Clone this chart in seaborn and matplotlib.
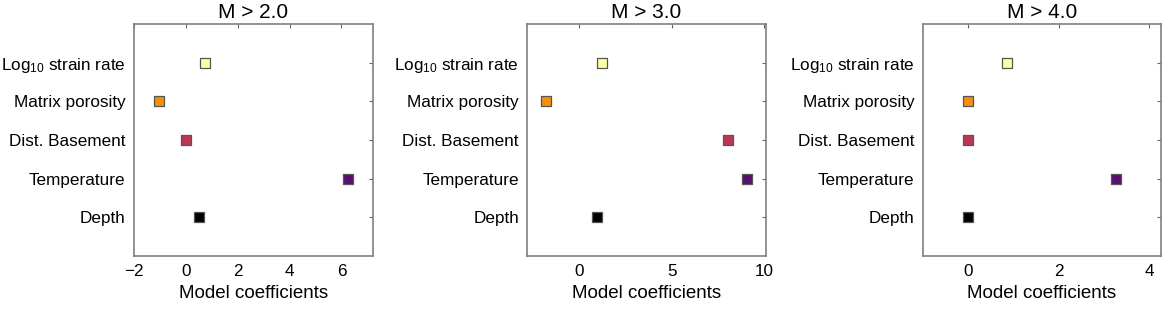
import matplotlib
matplotlib.use('Agg')
import matplotlib.pyplot as plt
import pandas as pd
import seaborn as sns

FEATURES = ['Log$_{10}$ strain rate', 'Matrix porosity', 'Dist. Basement', 'Temperature', 'Depth']
COLORS = ['#fcffa4', '#f98e09', '#bc3754', '#57106e', '#000004']

TITLES = ['M > 2.0', 'M > 3.0', 'M > 4.0']
COEF_M2 = [0.72, -1.03, 0.0, 6.25, 0.49]
COEF_M3 = [1.25, -1.79, 8.03, 9.10, 0.97]
COEF_M4 = [0.87, 0.0, 0.0, 3.27, 0.0]
XLIMS = [(-2, 7.2), (-2.8, 10.1), (-1.0, 4.27)]
XTICKS = [[-2, 0, 2, 4, 6], [0, 5, 10], [0, 2, 4]]

sns.set_style('white')
plt.rcParams['font.family'] = ['Liberation Sans', 'DejaVu Sans']
plt.rcParams['mathtext.fontset'] = 'custom'
plt.rcParams['mathtext.rm'] = 'Liberation Sans'
plt.rcParams['mathtext.it'] = 'Liberation Sans:italic'
plt.rcParams['text.color'] = 'black'
plt.rcParams['axes.labelcolor'] = 'black'
plt.rcParams['xtick.labelcolor'] = 'black'
plt.rcParams['ytick.labelcolor'] = 'black'

fig = plt.figure(figsize=(11.64, 3.09), dpi=100)
lefts = [0.1151, 0.4530, 0.7927]

for i, (title, coefs) in enumerate(zip(TITLES, [COEF_M2, COEF_M3, COEF_M4])):
    ax = fig.add_axes([lefts[i], 0.1715, 0.205, 0.7508])
    df = pd.DataFrame({'feature': FEATURES, 'coef': coefs})
    sns.stripplot(data=df, x='coef', y='feature', hue='feature', order=FEATURES,
                  hue_order=FEATURES, palette=COLORS, jitter=False, marker='s',
                  size=7, linewidth=0.9, edgecolor='#555555', legend=False, ax=ax)
    ax.set_ylim(5, -1)
    ax.set_xlim(*XLIMS[i])
    ax.set_xticks(XTICKS[i])
    ax.set_xticklabels([f'{t:g}'.replace('-', '\u2212') for t in XTICKS[i]])
    ax.set_title(title, fontsize=15, pad=4, color='black')
    ax.set_xlabel('Model coefficients', fontsize=13.5, labelpad=4)
    ax.set_ylabel('')
    ax.tick_params(axis='both', direction='in', length=3, width=0.8, color='#666666',
                   labelsize=12.3, pad=6, top=True, right=True, labelcolor='black')
    for sp in ax.spines.values():
        sp.set_color('#808080')
        sp.set_linewidth(1.2)
        sp.set_visible(True)

fig.savefig('out.png', dpi=100)
